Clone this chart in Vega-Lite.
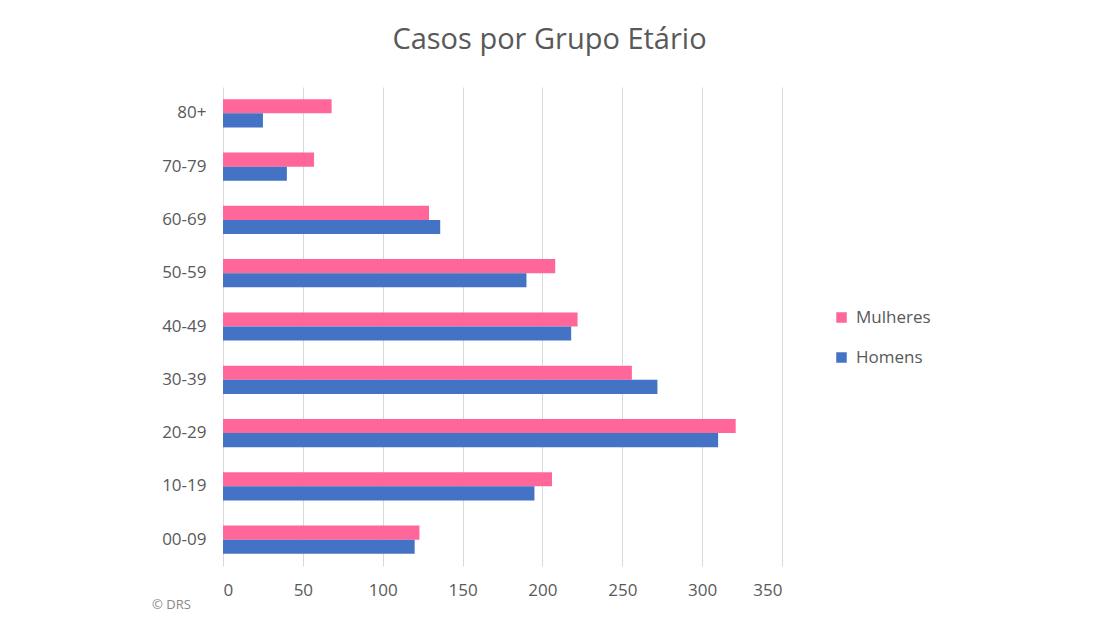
{
  "$schema": "https://vega.github.io/schema/vega-lite/v6.json",
  "autosize": "none",
  "width": 559,
  "height": 479,
  "padding": {"left": 223, "top": 87, "right": 318, "bottom": 54},
  "background": "white",
  "view": {"stroke": null},
  "title": {
    "text": "Casos por Grupo Etário",
    "font": "Open Sans",
    "fontSize": 29,
    "fontWeight": "normal",
    "color": "#595959",
    "anchor": "middle",
    "dx": 47,
    "offset": 32
  },
  "data": {
    "values": [
      {"grupo": "80+", "sexo": "Mulheres", "casos": 68},
      {"grupo": "80+", "sexo": "Homens", "casos": 25},
      {"grupo": "70-79", "sexo": "Mulheres", "casos": 57},
      {"grupo": "70-79", "sexo": "Homens", "casos": 40},
      {"grupo": "60-69", "sexo": "Mulheres", "casos": 129},
      {"grupo": "60-69", "sexo": "Homens", "casos": 136},
      {"grupo": "50-59", "sexo": "Mulheres", "casos": 208},
      {"grupo": "50-59", "sexo": "Homens", "casos": 190},
      {"grupo": "40-49", "sexo": "Mulheres", "casos": 222},
      {"grupo": "40-49", "sexo": "Homens", "casos": 218},
      {"grupo": "30-39", "sexo": "Mulheres", "casos": 256},
      {"grupo": "30-39", "sexo": "Homens", "casos": 272},
      {"grupo": "20-29", "sexo": "Mulheres", "casos": 321},
      {"grupo": "20-29", "sexo": "Homens", "casos": 310},
      {"grupo": "10-19", "sexo": "Mulheres", "casos": 206},
      {"grupo": "10-19", "sexo": "Homens", "casos": 195},
      {"grupo": "00-09", "sexo": "Mulheres", "casos": 123},
      {"grupo": "00-09", "sexo": "Homens", "casos": 120}
    ]
  },
  "mark": {"type": "bar"},
  "encoding": {
    "y": {
      "field": "grupo",
      "type": "nominal",
      "sort": ["80+", "70-79", "60-69", "50-59", "40-49", "30-39", "20-29", "10-19", "00-09"],
      "scale": {"paddingInner": 0.47, "paddingOuter": 0.23},
      "axis": {
        "title": null,
        "domain": false,
        "ticks": false,
        "grid": false,
        "labelFont": "Open Sans",
        "labelFontSize": 17,
        "labelColor": "#595959",
        "labelPadding": 17
      }
    },
    "yOffset": {
      "field": "sexo",
      "type": "nominal",
      "sort": ["Mulheres", "Homens"]
    },
    "x": {
      "field": "casos",
      "type": "quantitative",
      "scale": {"domain": [0, 350], "nice": false},
      "axis": {
        "values": [0, 50, 100, 150, 200, 250, 300, 350],
        "title": "© DRS",
        "titleFont": "Open Sans",
        "titleFontSize": 13,
        "titleFontWeight": "normal",
        "titleColor": "#888888",
        "titleX": -52,
        "titleY": 32,
        "titleAlign": "center",
        "domain": false,
        "ticks": false,
        "gridColor": "#d9d9d9",
        "gridWidth": 1,
        "labelFont": "Open Sans",
        "labelFontSize": 17,
        "labelColor": "#595959",
        "labelPadding": 16
      }
    },
    "color": {
      "field": "sexo",
      "type": "nominal",
      "sort": ["Mulheres", "Homens"],
      "scale": {"domain": ["Mulheres", "Homens"], "range": ["#ff6699", "#4472c4"]},
      "legend": {
        "title": null,
        "orient": "none",
        "legendX": 610,
        "legendY": 222,
        "symbolType": "square",
        "symbolSize": 110,
        "symbolStrokeWidth": 0,
        "symbolOpacity": 1,
        "labelFont": "Open Sans",
        "labelFontSize": 17,
        "labelColor": "#595959",
        "labelOffset": 6,
        "rowPadding": 22
      }
    }
  }
}
